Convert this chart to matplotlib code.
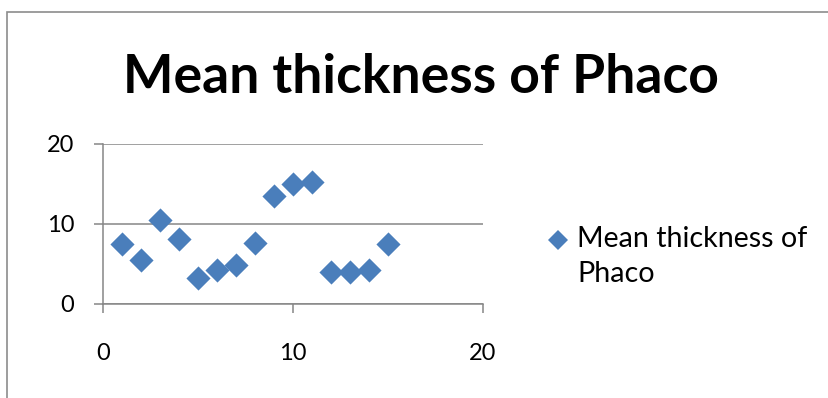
import matplotlib
matplotlib.use("Agg")
import matplotlib.pyplot as plt
from matplotlib.patches import Rectangle
from matplotlib.lines import Line2D

plt.rcParams['font.family'] = ['Lato', 'DejaVu Sans']

# sample number vs mean thickness
sample = [1, 2, 3, 4, 5, 6, 7, 8, 9, 10, 11, 12, 13, 14, 15]
thickness = [7.4, 5.4, 10.4, 8.1, 3.2, 4.2, 4.8, 7.6, 13.4, 15.0, 15.2, 3.9, 3.9, 4.2, 7.5]
ticks = [0, 10, 20]
series_name = 'Mean thickness of\nPhaco'

W, H = 829, 398
blue = '#4a7ebb'
grey = '#868686'

fig = plt.figure(figsize=(W / 100, H / 100), dpi=100)
fig.patch.set_facecolor('white')

# chart border (runs off the right and bottom edges)
fig.add_artist(Rectangle((7 / W, -0.1), 2.0, 1 - 12 / H + 0.1, transform=fig.transFigure,
                         fill=False, edgecolor='#8c8c8c', linewidth=1.2))

ax = fig.add_axes([103.3 / W, 1 - 303.5 / H, (482.7 - 103.3) / W, (303.5 - 143.5) / H])
ax.scatter(sample, thickness, marker='D', s=12.3 ** 2, color=blue, linewidths=0, zorder=3)

ax.set_xlim(0, 20)
ax.set_ylim(0, 20)
ax.set_xticks(ticks)
ax.set_yticks(ticks)
ax.yaxis.grid(True, color=grey, linewidth=1.1)
ax.set_axisbelow(True)
for s in ['top', 'right']:
    ax.spines[s].set_visible(False)
for s in ['left', 'bottom']:
    ax.spines[s].set_color(grey)
    ax.spines[s].set_linewidth(1.1)
ax.tick_params(axis='both', direction='out', length=6.8, width=1.1, color=grey,
               labelsize=17, labelcolor='black')
ax.tick_params(axis='x', pad=22)
ax.tick_params(axis='y', pad=14)
for lbl in ax.get_xticklabels() + ax.get_yticklabels():
    lbl.set_clip_on(False)

fig.text(421 / W, 1 - 93 / H, 'Mean thickness of Phaco', ha='center', va='baseline',
         fontsize=38.5, fontweight='bold')

# legend entry: marker beside the first line of the series name
fig.add_artist(Line2D([558 / W], [1 - 240 / H], transform=fig.transFigure, marker='D',
                      linestyle='none', markersize=10.5, color=blue, markeredgewidth=0))
fig.text(577 / W, 1 - 226 / H, series_name, ha='left', va='top', fontsize=20.6,
         linespacing=1.42)

fig.savefig('out.png', dpi=100)
